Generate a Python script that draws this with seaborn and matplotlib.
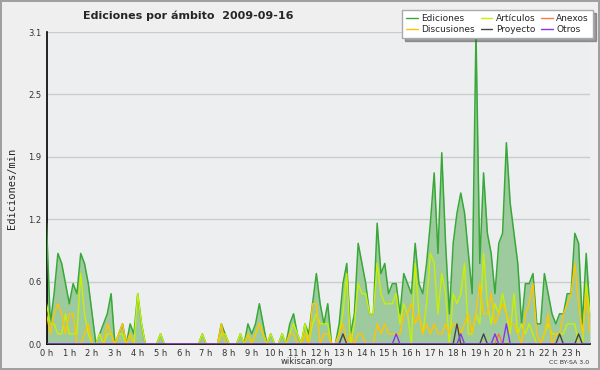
import numpy as np
import pandas as pd
import matplotlib
matplotlib.use("Agg")
import matplotlib.pyplot as plt
import seaborn as sns

# ---- data (10-minute buckets, edits/min) ----
ediciones = [1.2, 0.2, 0.5, 0.9, 0.8, 0.6, 0.4, 0.6, 0.5, 0.9, 0.8, 0.6, 0.3, 0.0, 0.1, 0.2, 0.3, 0.5,
             0.0, 0.1, 0.2, 0.0, 0.2, 0.1, 0.5, 0.2, 0.0, 0.0, 0.0, 0.0, 0.1, 0.0, 0.0, 0.0, 0.0, 0.0,
             0.0, 0.0, 0.0, 0.0, 0.0, 0.1, 0.0, 0.0, 0.0, 0.0, 0.2, 0.1, 0.0, 0.0, 0.0, 0.1, 0.0, 0.2,
             0.1, 0.2, 0.4, 0.2, 0.0, 0.1, 0.0, 0.0, 0.1, 0.0, 0.2, 0.3, 0.1, 0.0, 0.2, 0.1, 0.4, 0.7,
             0.4, 0.2, 0.4, 0.0, 0.0, 0.2, 0.6, 0.8, 0.1, 0.3, 1.0, 0.8, 0.6, 0.3, 0.3, 1.2, 0.7, 0.8,
             0.5, 0.6, 0.6, 0.3, 0.7, 0.6, 0.5, 1.0, 0.6, 0.5, 0.8, 1.2, 1.7, 0.9, 1.9, 1.0, 0.3, 1.0,
             1.3, 1.5, 1.3, 0.9, 0.5, 3.1, 0.8, 1.7, 1.1, 0.9, 0.5, 1.0, 1.1, 2.0, 1.4, 1.1, 0.8, 0.2,
             0.6, 0.6, 0.7, 0.2, 0.2, 0.7, 0.5, 0.3, 0.2, 0.3, 0.3, 0.5, 0.5, 1.1, 1.0, 0.2, 0.9, 0.3]
articulos = [0.4, 0.2, 0.2, 0.1, 0.1, 0.3, 0.1, 0.1, 0.1, 0.7, 0.3, 0.1, 0.0, 0.0, 0.1, 0.0, 0.1, 0.1,
             0.0, 0.1, 0.1, 0.0, 0.1, 0.0, 0.5, 0.2, 0.0, 0.0, 0.0, 0.0, 0.1, 0.0, 0.0, 0.0, 0.0, 0.0,
             0.0, 0.0, 0.0, 0.0, 0.0, 0.1, 0.0, 0.0, 0.0, 0.0, 0.1, 0.1, 0.0, 0.0, 0.0, 0.1, 0.0, 0.1,
             0.0, 0.1, 0.2, 0.1, 0.0, 0.1, 0.0, 0.0, 0.1, 0.0, 0.1, 0.2, 0.1, 0.0, 0.2, 0.0, 0.2, 0.3,
             0.2, 0.2, 0.2, 0.0, 0.0, 0.1, 0.3, 0.7, 0.0, 0.2, 0.6, 0.5, 0.5, 0.3, 0.3, 0.8, 0.5, 0.4,
             0.4, 0.4, 0.5, 0.2, 0.4, 0.3, 0.0, 0.8, 0.3, 0.1, 0.4, 0.9, 0.8, 0.3, 0.7, 0.5, 0.0, 0.5,
             0.4, 0.5, 0.8, 0.1, 0.1, 0.3, 0.2, 0.9, 0.4, 0.2, 0.4, 0.3, 0.5, 0.3, 0.1, 0.5, 0.1, 0.2,
             0.1, 0.2, 0.1, 0.0, 0.0, 0.1, 0.2, 0.1, 0.1, 0.1, 0.1, 0.2, 0.2, 0.2, 0.0, 0.0, 0.6, 0.3]
discusiones = [0.3, 0.1, 0.3, 0.4, 0.3, 0.1, 0.3, 0.3, 0.0, 0.0, 0.1, 0.2, 0.0, 0.0, 0.0, 0.0, 0.2, 0.1,
               0.0, 0.1, 0.2, 0.0, 0.1, 0.0, 0.0, 0.0, 0.0, 0.0, 0.0, 0.0, 0.0, 0.0, 0.0, 0.0, 0.0, 0.0,
               0.0, 0.0, 0.0, 0.0, 0.0, 0.0, 0.0, 0.0, 0.0, 0.0, 0.2, 0.0, 0.0, 0.0, 0.0, 0.0, 0.0, 0.1,
               0.0, 0.1, 0.2, 0.1, 0.0, 0.0, 0.0, 0.0, 0.0, 0.0, 0.1, 0.1, 0.0, 0.0, 0.1, 0.0, 0.4, 0.4,
               0.0, 0.1, 0.1, 0.0, 0.0, 0.1, 0.2, 0.0, 0.1, 0.0, 0.1, 0.1, 0.0, 0.0, 0.0, 0.2, 0.1, 0.2,
               0.1, 0.1, 0.1, 0.1, 0.3, 0.3, 0.4, 0.2, 0.3, 0.1, 0.2, 0.1, 0.2, 0.1, 0.1, 0.2, 0.1, 0.2,
               0.2, 0.1, 0.2, 0.3, 0.1, 0.3, 0.6, 0.3, 0.3, 0.5, 0.2, 0.3, 0.4, 0.3, 0.2, 0.2, 0.1, 0.0,
               0.3, 0.4, 0.6, 0.1, 0.0, 0.1, 0.3, 0.0, 0.1, 0.1, 0.3, 0.4, 0.5, 0.8, 0.4, 0.1, 0.5, 0.1]
anexos_nonzero = {119: 0.1}
proyecto_nonzero = {78: 0.1, 108: 0.2, 115: 0.1, 135: 0.1, 140: 0.1}
otros_nonzero = {92: 0.1, 109: 0.1, 118: 0.1, 121: 0.2}
hour_labels = [f"{h} h" for h in range(24)]
fecha = "2009-09-16"

n = len(ediciones)
anexos = [anexos_nonzero.get(i, 0.0) for i in range(n)]
proyecto = [proyecto_nonzero.get(i, 0.0) for i in range(n)]
otros = [otros_nonzero.get(i, 0.0) for i in range(n)]
hours = np.arange(n) / 6.0

df = pd.DataFrame({"h": hours, "Ediciones": ediciones, "Artículos": articulos,
                   "Anexos": anexos, "Discusiones": discusiones,
                   "Proyecto": proyecto, "Otros": otros})

sns.set_style("white")
plt.rcParams["font.family"] = ["DejaVu Sans"]

fig = plt.figure(figsize=(6, 3.7), dpi=100, facecolor="#efefef",
                 edgecolor="#a0a0a0", linewidth=1.5)
ax = fig.add_axes([46.5 / 600, 26 / 370, 543.5 / 600, 312 / 370])
ax.set_facecolor("#edeef0")

colors = {"Ediciones": "#38a838", "Artículos": "#c8f000", "Anexos": "#ff7744",
          "Discusiones": "#ffc400", "Proyecto": "#444444", "Otros": "#8833ee"}

ax.fill_between(df["h"], df["Ediciones"], 0, color="#9ecb9e", lw=0, zorder=1)
for name in ["Ediciones", "Artículos", "Discusiones", "Anexos", "Proyecto", "Otros"]:
    sns.lineplot(data=df, x="h", y=name, ax=ax, color=colors[name],
                 lw=1.1 if name == "Ediciones" else 1.0, label=name, zorder=3)

ax.set_xlim(0, hours[-1])
ax.set_ylim(0, 3.1)
yt = [3.1 * k / 5 for k in range(6)]
ax.set_yticks(yt)
ax.set_yticklabels([f"{v:.1f}" for v in yt])
ax.set_yticks(np.arange(0, 3.1001, 3.1 / 20), minor=True)
ax.set_xticks(range(24))
ax.set_xticklabels(hour_labels)
ax.set_xticks(hours, minor=True)
ax.yaxis.grid(True, color="#cccccc", lw=1)
ax.set_axisbelow(True)
for s in ["top", "right"]:
    ax.spines[s].set_visible(False)
for s in ["left", "bottom"]:
    ax.spines[s].set_color("black")
    ax.spines[s].set_linewidth(1.2)
ax.tick_params(axis="both", which="major", direction="out", length=3, width=1,
               labelsize=6, labelcolor="#333333", pad=0.5, color="black")
ax.tick_params(axis="both", which="minor", direction="out", length=2.2, width=1, color="black")
ax.set_xlabel("")
ax.set_ylabel("")

handles, labels = ax.get_legend_handles_labels()
hmap = dict(zip(labels, handles))
order = ["Ediciones", "Discusiones", "Artículos", "Proyecto", "Anexos", "Otros"]
leg = ax.legend([hmap[k] for k in order], order, ncol=3, loc="upper right",
                bbox_to_anchor=(593 / 600, 1 - 10 / 370), bbox_transform=fig.transFigure,
                fontsize=6.5, frameon=True, fancybox=False, shadow=True,
                handlelength=1.3, handletextpad=0.4, columnspacing=0.6,
                labelspacing=0.25, borderpad=0.45, borderaxespad=0)
leg.get_frame().set_edgecolor("#aaaaaa")
leg.get_frame().set_facecolor("white")
for line in leg.get_lines():
    line.set_linewidth(1.0)
leg.set_zorder(10)

fig.text(188 / 600, 1 - 16 / 370, f"Ediciones por ámbito  {fecha}", ha="center",
         va="center", fontsize=8, fontweight="bold")
fig.text(12 / 600, 1 - 188 / 370, "Ediciones/min", rotation=90, ha="center",
         va="center", fontsize=7.5, family="DejaVu Sans Mono")
fig.text(307 / 600, 1 - 362 / 370, "wikiscan.org", ha="center", va="center",
         fontsize=6, color="#333333")
fig.text(589 / 600, 1 - 362 / 370, "CC BY-SA 3.0", ha="right", va="center",
         fontsize=4.5, color="#333333")

fig.savefig("out.png", dpi=100, facecolor=fig.get_facecolor(),
            edgecolor=fig.get_edgecolor())
